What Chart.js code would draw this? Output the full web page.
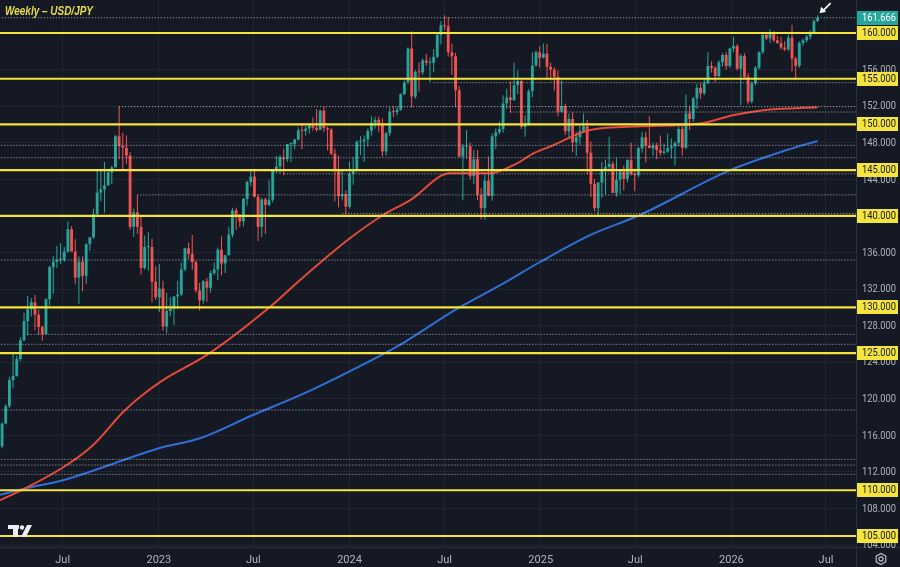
<!DOCTYPE html>
<html><head><meta charset="utf-8">
<script src="https://cdn.jsdelivr.net/npm/chart.js@4.4.1/dist/chart.umd.min.js"></script>
<style>html,body{margin:0;padding:0;background:#151924;overflow:hidden}canvas{display:block}</style>
</head><body><canvas id="c" width="900" height="567"></canvas>
<script>
// ---- DATA (weekly USD/JPY candles, week 0 = 7 Mar 2022) ----
const chartTitle = 'Weekly – USD/JPY';
const opens = [
114.8,117.3,119.2,122.05,122.5,124.35,126.4,128.5,129.8,130.55,
129.2,127.85,127.1,130.9,134.4,135.0,135.2,135.2,136.1,138.55,
136.1,133.25,135.0,133.45,136.9,137.65,140.2,142.55,142.9,143.35,
144.75,145.3,148.7,147.65,147.45,146.6,138.8,140.4,138.8,134.3,
136.6,136.6,132.8,131.1,132.05,127.9,129.6,129.85,131.2,131.4,
134.15,136.45,135.85,134.95,131.85,130.75,132.85,132.15,133.75,134.15,
136.3,134.8,135.7,137.95,140.6,139.95,139.4,141.85,143.7,144.3,
142.1,138.8,141.8,141.2,141.75,144.95,145.4,146.4,146.2,147.85,
147.85,148.35,149.35,149.3,149.55,149.85,149.65,149.4,151.5,149.6,
149.45,146.8,144.95,142.15,142.4,141.0,144.6,144.9,148.1,148.15,
148.35,149.3,150.2,150.5,150.1,147.05,149.05,151.4,151.35,151.6,
153.3,154.6,158.3,153.05,155.75,155.7,157.0,156.75,156.75,157.4,
159.8,160.85,160.75,157.9,157.45,153.75,146.5,147.6,147.6,144.35,
146.2,142.3,140.85,143.85,142.2,148.7,149.15,149.5,152.3,152.95,
152.65,154.3,154.75,149.75,150.0,153.65,156.45,157.9,157.3,157.75,
156.3,156.0,155.2,151.4,152.0,149.25,150.6,148.05,148.6,149.3,
149.8,146.9,143.5,140.85,143.65,144.9,145.35,145.7,142.5,143.95,
144.85,144.05,146.1,144.6,144.45,147.4,148.6,147.7,147.4,147.7,
147.2,146.9,147.05,147.4,147.6,147.95,149.5,147.45,151.2,150.6,
152.85,154.0,153.4,154.55,156.4,156.2,155.3,156.8,157.6,156.4,
158.3,158.6,156.1,157.5,155.2,152.5,154.5,156.2,157.9,159.8,
159.4,160.1,159.2,158.9,158.4,158.2,159.5,157.2,156.4,158.9,
159.2,159.6,160.1,161.3];
const highs = [
117.4,119.4,122.4,125.1,124.7,126.7,129.4,131.25,131.0,131.35,
129.75,128.0,131.0,134.55,135.6,136.7,137.0,136.6,139.4,138.9,
137.45,135.6,135.6,137.0,137.7,140.8,144.99,144.95,145.9,144.9,
145.45,148.85,151.95,149.1,148.8,147.0,140.8,142.25,139.9,137.85,
138.2,137.5,134.5,134.75,132.9,131.6,131.1,131.2,132.9,134.9,
136.5,137.1,137.9,135.1,132.65,133.0,133.2,134.0,134.9,136.55,
137.75,135.75,138.75,140.9,140.9,140.2,141.95,143.85,145.05,144.9,
142.4,141.95,142.0,143.9,145.0,146.55,146.65,147.35,147.85,148.0,
148.45,149.7,150.15,149.85,150.1,150.75,151.7,151.6,151.9,149.75,
149.6,147.35,146.6,144.95,142.8,145.95,146.4,148.3,148.7,148.8,
149.55,150.9,150.85,150.85,150.65,149.2,151.85,151.97,151.95,153.4,
154.8,158.45,160.2,155.95,156.8,157.2,157.7,157.3,158.25,159.95,
161.3,161.95,161.75,158.85,157.85,154.2,147.9,149.4,148.0,147.2,
147.2,143.05,144.5,146.5,149.0,149.55,150.3,153.2,153.9,154.7,
156.75,155.9,154.85,151.0,153.85,157.9,158.1,158.55,158.85,158.8,
156.75,156.25,155.9,154.8,152.3,151.2,151.3,149.2,149.9,151.2,
150.5,148.15,144.0,143.7,145.9,146.15,148.65,146.0,146.3,145.0,
145.5,146.2,148.0,145.15,147.55,149.2,149.2,150.9,148.0,148.0,
148.8,147.9,149.0,148.5,148.2,149.95,149.9,153.25,152.0,153.0,
154.45,154.5,155.05,157.9,156.9,156.4,157.0,157.8,157.9,158.4,
159.6,158.8,157.7,157.8,155.6,154.7,156.4,158.0,159.9,160.1,
160.4,160.2,159.7,159.6,159.1,159.8,160.9,157.4,159.1,159.4,
159.8,160.3,161.5,161.95];
const lows = [
114.6,117.2,119.0,121.2,122.4,124.1,126.3,126.95,129.0,127.5,
127.0,126.35,127.0,130.2,131.5,134.3,134.75,134.95,135.95,136.4,
132.5,130.4,131.75,132.55,136.2,137.5,140.0,141.6,140.35,143.3,
143.5,145.3,146.2,145.1,145.7,138.5,137.7,138.05,133.6,134.1,
134.0,130.55,130.8,129.5,127.45,127.2,129.0,128.1,129.8,131.25,
133.95,135.3,134.1,131.6,129.65,130.4,130.6,131.6,133.55,133.0,
133.5,133.75,135.7,137.65,138.45,138.75,138.85,141.15,143.25,142.0,
137.25,137.7,138.05,141.05,141.5,144.6,144.55,144.45,145.9,145.9,
147.3,148.25,147.3,148.8,149.0,149.3,149.2,149.4,149.2,147.15,
146.65,141.6,140.95,141.7,140.25,140.8,143.4,144.85,146.65,145.9,
147.6,148.8,149.55,149.2,146.5,146.6,148.75,150.8,151.0,151.5,
153.2,154.4,151.85,152.8,153.6,155.4,156.4,154.55,155.7,157.25,
158.75,160.3,157.4,155.4,151.9,146.4,141.7,146.3,144.0,143.45,
141.75,139.6,139.58,142.15,141.65,147.35,148.9,149.1,151.7,151.3,
152.6,153.3,149.5,148.65,149.9,153.0,156.3,156.2,157.2,154.95,
154.8,153.7,150.9,151.3,148.85,148.55,146.95,146.55,147.75,149.1,
144.55,142.05,140.5,139.9,142.0,142.35,144.85,142.5,142.1,142.4,
142.8,143.65,144.4,142.7,144.2,146.9,145.85,147.5,146.6,146.2,
146.6,146.7,146.9,146.3,145.5,147.6,146.6,147.3,149.4,150.3,
151.7,152.8,153.2,154.4,155.65,154.65,155.1,156.3,156.0,156.2,
157.9,155.9,152.1,155.0,152.2,152.3,154.3,156.0,157.7,159.2,
158.9,159.0,158.8,158.2,158.0,158.0,155.8,155.1,156.2,158.6,
159.0,159.3,159.9,161.2];
const closes = [
117.3,119.2,122.05,122.5,124.35,126.4,128.5,129.8,130.55,129.2,
127.85,127.1,130.9,134.4,135.0,135.2,135.2,136.1,138.55,136.1,
133.25,135.0,133.45,136.9,137.65,140.2,142.55,142.9,143.35,144.75,
145.3,148.7,147.65,147.45,146.6,138.8,140.4,138.8,134.3,136.6,
136.6,132.8,131.1,132.05,127.9,129.6,129.85,131.2,131.4,134.15,
136.45,135.85,134.95,131.85,130.75,132.85,132.15,133.75,134.15,136.3,
134.8,135.7,137.95,140.6,139.95,139.4,141.85,143.7,144.3,142.1,
138.8,141.8,141.2,141.75,144.95,145.4,146.4,146.2,147.85,147.85,
148.35,149.35,149.3,149.55,149.85,149.65,149.4,151.5,149.6,149.45,
146.8,144.95,142.15,142.4,141.0,144.6,144.9,148.1,148.15,148.35,
149.3,150.2,150.5,150.1,147.05,149.05,151.4,151.35,151.6,153.3,
154.6,158.3,153.05,155.75,155.7,157.0,156.75,156.75,157.4,159.8,
160.85,160.75,157.9,157.45,153.75,146.5,147.6,147.6,144.35,146.2,
142.3,140.85,143.85,142.2,148.7,149.15,149.5,152.3,152.95,152.65,
154.3,154.75,149.75,150.0,153.65,156.45,157.9,157.3,157.75,156.3,
156.0,155.2,151.4,152.0,149.25,150.6,148.05,148.6,149.3,149.8,
146.9,143.5,140.85,143.65,144.9,145.35,145.7,142.5,143.95,144.85,
144.05,146.1,144.6,144.45,147.4,148.6,147.7,147.4,147.7,147.2,
146.9,147.05,147.4,147.6,147.95,149.5,147.45,151.2,150.6,152.85,
154.0,153.4,154.55,156.4,156.2,155.3,156.8,157.6,156.4,158.3,
158.6,156.1,157.5,155.2,152.5,154.5,156.2,157.9,159.8,159.4,
160.1,159.2,158.9,158.4,158.2,159.5,157.2,156.4,158.9,159.2,
159.6,160.1,161.3,161.666];
const lastPrice = 161.666;

// moving averages (sampled along the week axis)
const maRedWeeks  = [-0.6,6.3,17.7,24.9,33.1,37.7,44,56,73.3,81.5,95.1,104.2,111.5,122.5,133.4,140.8,145.3,149.8,160.8,175,190.8,199.9,209.2,223];
const maRedValues = [108.9,110.2,112.76,114.95,118.56,120.2,122.05,124.8,130.07,133.0,137.55,140.1,141.7,144.66,144.66,145.75,146.84,147.57,149.4,149.8,150.1,151.0,151.6,151.88];
const maBlueWeeks  = [-0.6,6.3,16.7,26.8,35.8,42.9,54.1,68.6,81.5,90.2,108.8,123.8,136.1,147.1,160.8,174.4,199.1,214.6,223];
const maBlueValues = [109.5,110.2,111.1,112.4,113.67,114.6,115.68,118.23,120.4,122.05,125.9,129.7,132.4,134.96,137.9,140.1,145.0,147.2,148.2];

// horizontal levels
const levelLines = [160,155,150,145,140,130,125,110,105];
const dottedLevels = [151.95,151.36,154.57,147.72,146.36,144.6,142.3,140.28,135.18,127.05,125.96,118.78,113.38,112.76,111.74];
const dottedStarts = [32,139,118,-1,-1,77,37,93,-1,7,-1,-1,-1,-1,-1];

// axes
const yTickValues = [104,108,112,116,120,124,128,132,136,140,144,148,152,156,160];
const xTickWeeks  = [16.57,42.86,68.71,95.0,121.0,147.29,173.14,199.43,225.29];
const xTickLabels = ['Jul','2023','Jul','2024','Jul','2025','Jul','2026','Jul'];

// ---- STYLE ----
const BG = '#151924';
const TEAL = '#26a69a', RED = '#ef5350';
const YELLOW = '#f5e33e';
const AXIS_TXT = '#b2b5be';
const FONT_FAMILY = "Roboto,'Liberation Sans',sans-serif";

const idx = opens.map((_, i) => i);
const candleColors = idx.map(i => closes[i] >= opens[i] ? TEAL : RED);
const wickData = idx.map(i => ({x: i, y: [lows[i], highs[i]]}));
const bodyData = idx.map(i => ({x: i, y: [opens[i], closes[i]]}));

const X_END = 240;
const DOT = 'rgba(215,217,224,0.8)';
const datasets = [];
levelLines.forEach(l => datasets.push({
  type: 'line', data: [{x: -5, y: l}, {x: X_END, y: l}],
  borderColor: YELLOW, borderWidth: 2.2, pointRadius: 0, order: 1
}));
datasets.push({
  type: 'line', data: [{x: -5, y: lastPrice}, {x: X_END, y: lastPrice}],
  borderColor: DOT, borderWidth: 1, borderDash: [1, 2], pointRadius: 0, order: 2
});
dottedLevels.forEach((l, k) => datasets.push({
  type: 'line', data: [{x: dottedStarts[k], y: l}, {x: X_END, y: l}],
  borderColor: DOT, borderWidth: 1, borderDash: [1, 2], pointRadius: 0, order: 2
}));
datasets.push({
  type: 'line', data: maRedWeeks.map((w, k) => ({x: w, y: maRedValues[k]})),
  borderColor: '#e5493a', borderWidth: 2, pointRadius: 0, cubicInterpolationMode: 'monotone', order: 3
});
datasets.push({
  type: 'line', data: maBlueWeeks.map((w, k) => ({x: w, y: maBlueValues[k]})),
  borderColor: '#2f6fd8', borderWidth: 2, pointRadius: 0, cubicInterpolationMode: 'monotone', order: 3
});
datasets.push({
  type: 'bar', data: bodyData, backgroundColor: candleColors, borderWidth: 0,
  grouped: false, categoryPercentage: 1, barPercentage: 0.78, minBarLength: 1, order: 4
});
datasets.push({
  type: 'bar', data: wickData, backgroundColor: candleColors, borderWidth: 0,
  grouped: false, categoryPercentage: 1, barPercentage: 0.28, order: 5
});

const overlay = {
  id: 'overlay',
  beforeDraw(chart) {
    const c = chart.ctx; c.save(); c.fillStyle = BG; c.fillRect(0, 0, chart.width, chart.height); c.restore();
  },
  afterDraw(chart) {
    const {ctx, chartArea: a, scales: {x, y}} = chart;
    ctx.save();
    // separators
    ctx.strokeStyle = '#2a2e39'; ctx.lineWidth = 1;
    ctx.beginPath();
    ctx.moveTo(a.right + 0.5, 0); ctx.lineTo(a.right + 0.5, chart.height);
    ctx.moveTo(0, a.bottom + 0.5); ctx.lineTo(chart.width, a.bottom + 0.5);
    ctx.stroke();
    const LX = a.right + 6, LW = 34;
    // price-axis tick labels
    ctx.font = '11px ' + FONT_FAMILY; ctx.textBaseline = 'middle'; ctx.textAlign = 'left';
    ctx.fillStyle = AXIS_TXT;
    yTickValues.forEach(v => ctx.fillText(v.toFixed(3), LX, y.getPixelForValue(v) + 0.5, LW));
    // level labels
    levelLines.forEach(l => {
      const py = Math.round(y.getPixelForValue(l));
      ctx.fillStyle = YELLOW; ctx.fillRect(a.right + 1, py - 7, chart.width - a.right - 3, 14);
      ctx.fillStyle = '#131722'; ctx.fillText(l.toFixed(3), LX, py + 0.5, LW);
    });
    // last price label
    const lp = Math.round(y.getPixelForValue(lastPrice));
    ctx.fillStyle = TEAL; ctx.fillRect(a.right + 1, lp - 7, chart.width - a.right - 3, 14);
    ctx.fillStyle = '#ffffff'; ctx.fillText(lastPrice.toFixed(3), LX, lp + 0.5, LW);
    // title
    ctx.font = "italic bold 12px 'Liberation Sans',sans-serif";
    ctx.fillStyle = '#e9dc4c';
    ctx.fillText(chartTitle, a.left + 5, a.top + 12, 88);
    // arrow to last candle
    const li = opens.length - 1;
    const tx = x.getPixelForValue(li) + 2, ty = y.getPixelForValue(highs[li]) - 2;
    ctx.strokeStyle = '#ffffff'; ctx.fillStyle = '#ffffff'; ctx.lineWidth = 1.6;
    ctx.beginPath(); ctx.moveTo(tx + 11, ty - 10); ctx.lineTo(tx + 3, ty - 2); ctx.stroke();
    ctx.beginPath(); ctx.moveTo(tx, ty); ctx.lineTo(tx + 6.5, ty - 1.5); ctx.lineTo(tx + 1.5, ty - 6.5); ctx.closePath(); ctx.fill();
    // TV logo
    const lx = a.left + 8, ly = a.bottom - 22;
    ctx.fillStyle = '#eceef3';
    ctx.fillRect(lx, ly, 11, 4);
    ctx.fillRect(lx + 5, ly, 5, 12);
    ctx.beginPath(); ctx.arc(lx + 14, ly + 2.5, 2.2, 0, Math.PI * 2); ctx.fill();
    ctx.beginPath(); ctx.moveTo(lx + 19, ly); ctx.lineTo(lx + 24, ly); ctx.lineTo(lx + 18, ly + 12); ctx.lineTo(lx + 13, ly + 12); ctx.closePath(); ctx.fill();
    // settings gear
    const gx = a.right + 25, gy = a.bottom + 12;
    ctx.strokeStyle = AXIS_TXT; ctx.lineWidth = 1.3;
    ctx.beginPath();
    for (let k = 0; k < 6; k++) {
      const ang = Math.PI / 6 + k * Math.PI / 3;
      const px = gx + 5.5 * Math.cos(ang), py = gy + 5.5 * Math.sin(ang);
      k === 0 ? ctx.moveTo(px, py) : ctx.lineTo(px, py);
    }
    ctx.closePath(); ctx.stroke();
    ctx.beginPath(); ctx.arc(gx, gy, 2, 0, Math.PI * 2); ctx.stroke();
    ctx.restore();
  }
};

new Chart(document.getElementById('c'), {
  type: 'bar',
  data: {datasets},
  options: {
    responsive: false, animation: false, devicePixelRatio: 1, events: [],
    layout: {padding: 0},
    plugins: {legend: {display: false}, tooltip: {enabled: false}, title: {display: false}},
    scales: {
      x: {
        type: 'linear', min: -0.57, max: 233.5, offset: false,
        afterBuildTicks: s => { s.ticks = xTickWeeks.map(v => ({value: v})); },
        afterFit: s => { s.height = 20; s.paddingLeft = 0; s.paddingRight = 0; },
        grid: {color: 'rgba(255,255,255,0.055)', drawTicks: false, offset: false},
        border: {display: false},
        ticks: {color: AXIS_TXT, font: {size: 11, family: FONT_FAMILY}, padding: 7, autoSkip: false, maxRotation: 0,
          callback: (v, i) => xTickLabels[i]}
      },
      y: {
        type: 'linear', position: 'right', min: 103.795, max: 163.61, beginAtZero: false,
        afterBuildTicks: s => { s.ticks = yTickValues.map(v => ({value: v})); },
        afterFit: s => { s.width = 44; s.paddingTop = 0; s.paddingBottom = 0; },
        grid: {color: 'rgba(255,255,255,0.055)', drawTicks: false},
        border: {display: false},
        ticks: {display: false}
      }
    }
  },
  plugins: [overlay]
});
</script>
</body></html>
